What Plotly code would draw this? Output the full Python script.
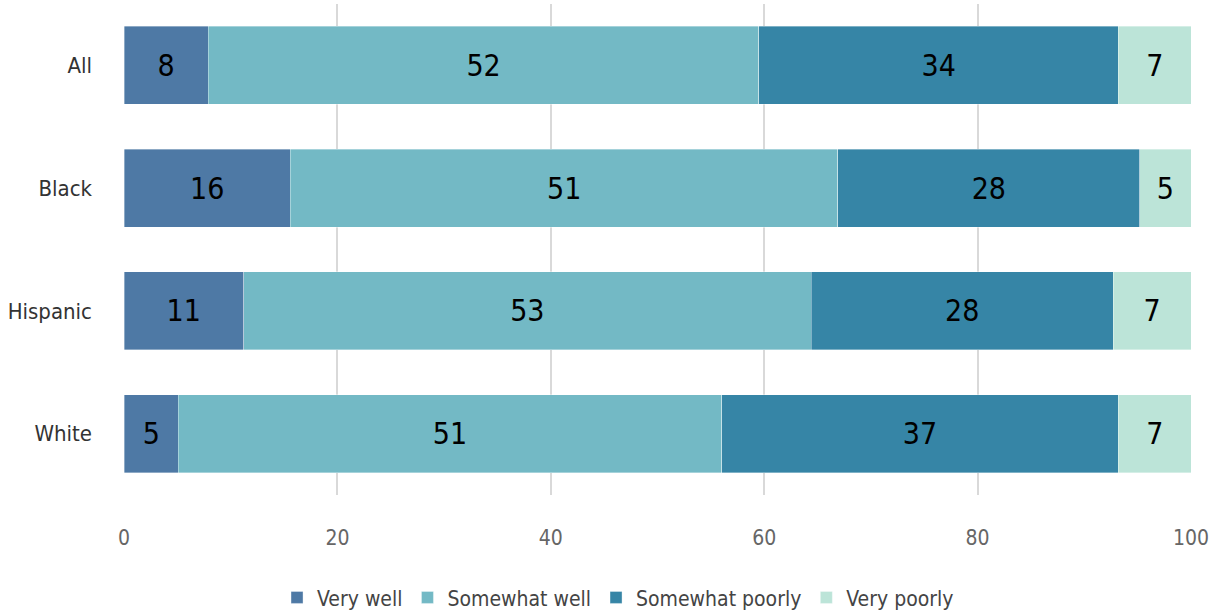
import plotly.graph_objects as go

# Share of respondents by group (percent), stacked left to right
groups = ["All", "Black", "Hispanic", "White"]
very_well = [7.9, 15.6, 11.2, 5.1]
somewhat_well = [51.6, 51.3, 53.2, 50.9]
somewhat_poorly = [33.7, 28.3, 28.3, 37.2]
very_poorly = [6.8, 4.8, 7.3, 6.8]

series = [
    ("Very well", very_well, "#4e79a5"),
    ("Somewhat well", somewhat_well, "#73b9c5"),
    ("Somewhat poorly", somewhat_poorly, "#3685a6"),
    ("Very poorly", very_poorly, "#bce4d8"),
]

FONT = "DejaVu Sans Condensed, Liberation Sans Narrow, Roboto, sans-serif"

fig = go.Figure()
for name, vals, color in series:
    fig.add_trace(go.Bar(
        y=groups,
        x=vals,
        name=name,
        orientation="h",
        marker=dict(color=color, line=dict(color="rgba(255,255,255,0.6)", width=0.6)),
        text=vals,
        texttemplate="%{x:.0f}",
        textposition="inside",
        insidetextanchor="middle",
        textangle=0,
        textfont=dict(family=FONT, size=30, color="#000000"),
        hoverinfo="skip",
    ))

fig.update_layout(
    barmode="stack",
    bargap=0.364,
    width=1209,
    height=615,
    margin=dict(l=124, r=18, t=4, b=120, autoexpand=False),
    paper_bgcolor="white",
    plot_bgcolor="white",
    font=dict(family=FONT, color="#333333"),
    showlegend=True,
    legend=dict(
        orientation="h",
        xref="paper",
        x=0.463,
        xanchor="center",
        yref="container",
        y=0.028,
        yanchor="middle",
        font=dict(family=FONT, size=21, color="#444444"),
        traceorder="normal",
        itemwidth=30,
    ),
    uniformtext=dict(minsize=20, mode="show"),
)

fig.update_xaxes(
    range=[0, 100],
    tickvals=[0, 20, 40, 60, 80, 100],
    showgrid=True,
    gridcolor="#d9d9d9",
    gridwidth=2,
    zeroline=False,
    showline=False,
    automargin=False,
    ticklabeloverflow="allow",
    tickfont=dict(family=FONT, size=21, color="#666666"),
    ticklabelstandoff=28,
)

fig.update_yaxes(
    categoryorder="array",
    categoryarray=groups,
    autorange="reversed",
    showgrid=False,
    zeroline=False,
    showline=False,
    automargin=False,
    tickfont=dict(family=FONT, size=22, color="#333333"),
    ticklabelstandoff=31,
)

fig.write_html("out.html")
